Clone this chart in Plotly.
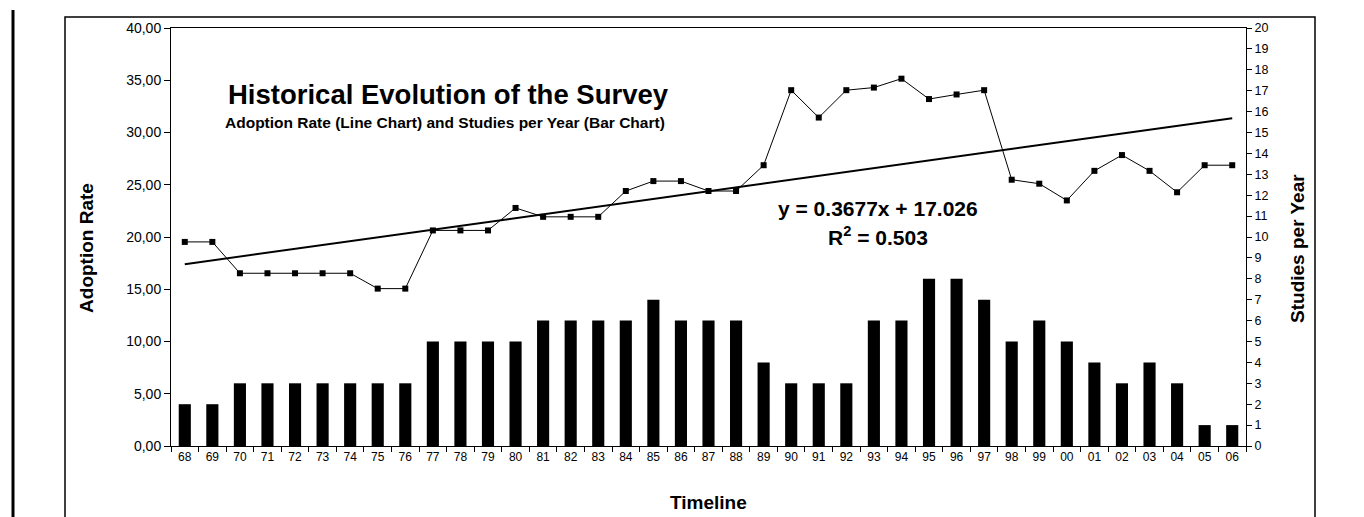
import plotly.graph_objects as go

years = ["68", "69", "70", "71", "72", "73", "74", "75", "76", "77", "78", "79", "80",
         "81", "82", "83", "84", "85", "86", "87", "88", "89", "90", "91", "92", "93",
         "94", "95", "96", "97", "98", "99", "00", "01", "02", "03", "04", "05", "06"]
adoption_rate = [19.53, 19.53, 16.53, 16.53, 16.53, 16.53, 16.53, 15.06, 15.06, 20.63,
                 20.63, 20.63, 22.78, 21.93, 21.93, 21.93, 24.40, 25.35, 25.35, 24.40,
                 24.40, 26.87, 34.05, 31.43, 34.05, 34.30, 35.15, 33.20, 33.64, 34.05,
                 25.48, 25.10, 23.50, 26.33, 27.84, 26.33, 24.28, 26.87, 26.87]
studies_per_year = [2, 2, 3, 3, 3, 3, 3, 3, 3, 5, 5, 5, 5, 6, 6, 6, 6, 7, 6, 6, 6, 4, 3, 3,
                    3, 6, 6, 8, 8, 7, 5, 6, 5, 4, 3, 4, 3, 1, 1]
trend_slope = 0.3677
trend_intercept = 17.026
r_squared = 0.503

FONT = "Liberation Sans, Arial, sans-serif"

# plot area in pixels
W, H = 1364, 517
L, R, T, B = 163, 1238, 18, 438
PW, PH = R - L, B - T


def px(x):
    return (x - L) / PW


def py(y):
    return (B - y) / PH


fig = go.Figure()

fig.add_trace(go.Bar(
    x=years, y=studies_per_year, yaxis="y2",
    marker=dict(color="black", line=dict(width=0)),
    name="Studies per Year",
))

fig.add_trace(go.Scatter(
    x=years, y=adoption_rate, yaxis="y",
    mode="lines+markers",
    line=dict(color="black", width=1),
    marker=dict(symbol="square", size=6, color="black"),
    name="Adoption Rate",
))

n = len(years)
fig.add_trace(go.Scatter(
    x=[years[0], years[-1]],
    y=[trend_slope * 1 + trend_intercept, trend_slope * n + trend_intercept],
    yaxis="y", mode="lines",
    line=dict(color="black", width=2),
    name="Trend",
))

annotations = [
    dict(text="<b>Historical Evolution of the Survey</b>", x=px(440), y=py(85),
         xref="paper", yref="paper", showarrow=False, xanchor="center", yanchor="middle",
         font=dict(size=27.5, family=FONT, color="black")),
    dict(text="<b>Adoption Rate (Line Chart) and Studies per Year (Bar Chart)</b>",
         x=px(437), y=py(113), xref="paper", yref="paper", showarrow=False,
         xanchor="center", yanchor="middle",
         font=dict(size=15.5, family=FONT, color="black")),
    dict(text="<b>y = %.4fx + %.3f</b>" % (trend_slope, trend_intercept),
         x=px(870), y=py(199), xref="paper", yref="paper", showarrow=False,
         xanchor="center", yanchor="middle",
         font=dict(size=21, family=FONT, color="black")),
    dict(text="<b>R<sup>2</sup> = %.3f</b>" % r_squared,
         x=px(870), y=py(227), xref="paper", yref="paper", showarrow=False,
         xanchor="center", yanchor="middle",
         font=dict(size=21, family=FONT, color="black")),
    dict(text="<b>Adoption Rate</b>", x=px(79), y=py(239), xref="paper", yref="paper",
         showarrow=False, textangle=-90, xanchor="center", yanchor="middle",
         font=dict(size=19, family=FONT, color="black")),
    dict(text="<b>Studies per Year</b>", x=px(1290), y=py(240), xref="paper", yref="paper",
         showarrow=False, textangle=-90, xanchor="center", yanchor="middle",
         font=dict(size=19, family=FONT, color="black")),
    dict(text="<b>Timeline</b>", x=0.5, y=py(495), xref="paper", yref="paper",
         showarrow=False, xanchor="center", yanchor="middle",
         font=dict(size=19, family=FONT, color="black")),
]

shapes = [
    # inner chart frame
    dict(type="rect", xref="paper", yref="paper",
         x0=px(57), x1=px(1307), y0=py(514), y1=py(7),
         line=dict(color="black", width=1.5), layer="below"),
    # outer thick page lines
    dict(type="line", xref="paper", yref="paper",
         x0=px(5), x1=px(5), y0=py(0), y1=py(517),
         line=dict(color="black", width=3)),
    dict(type="line", xref="paper", yref="paper",
         x0=px(1362), x1=px(1362), y0=py(0), y1=py(517),
         line=dict(color="black", width=3)),
]

fig.update_layout(
    width=W, height=H,
    margin=dict(l=L, r=W - R, t=T, b=H - B, pad=0),
    paper_bgcolor="white", plot_bgcolor="white",
    showlegend=False,
    separators=",.",
    bargap=0.56,
    font=dict(family=FONT, size=13, color="black"),
    xaxis=dict(
        type="category", range=[-0.5, n - 0.5], autorange=False,
        showline=True, linecolor="black", linewidth=1, mirror=True,
        ticks="outside", ticklen=5, tickcolor="black", tickson="boundaries",
        showgrid=False, tickfont=dict(size=12, family=FONT),
    ),
    yaxis=dict(
        range=[0, 40], dtick=5, tickformat=".2f", showgrid=False, zeroline=False,
        showline=True, linecolor="black", linewidth=1,
        ticks="outside", ticklen=6, tickcolor="black",
        tickfont=dict(size=14, family=FONT),
    ),
    yaxis2=dict(
        range=[0, 20], dtick=1, overlaying="y", side="right", showgrid=False,
        zeroline=False, showline=True, linecolor="black", linewidth=1,
        ticks="outside", ticklen=5, tickcolor="black",
        tickfont=dict(size=12.5, family=FONT),
    ),
    annotations=annotations,
    shapes=shapes,
)

fig.write_html("out.html")
